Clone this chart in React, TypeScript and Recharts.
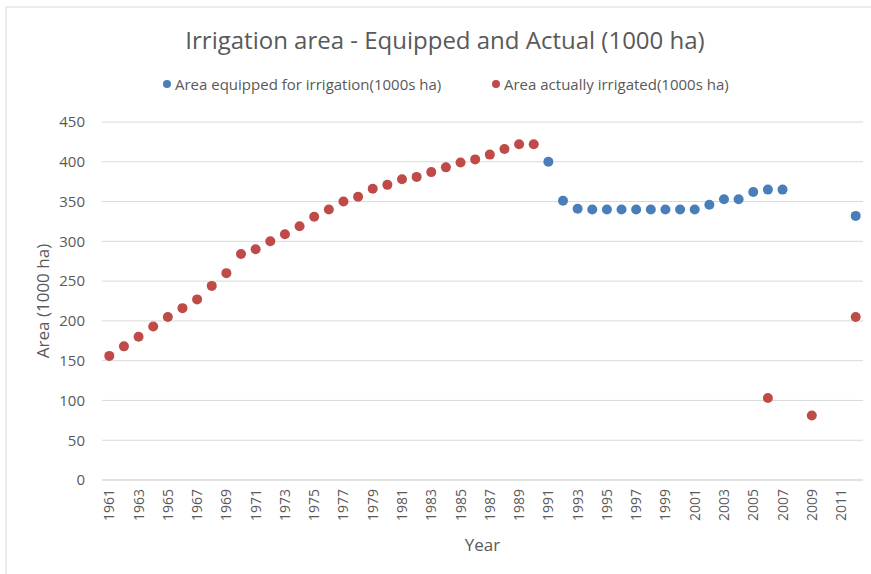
import { ComposedChart, Line, XAxis, YAxis, CartesianGrid } from 'recharts';

const years = [
  1961, 1962, 1963, 1964, 1965, 1966, 1967, 1968, 1969, 1970,
  1971, 1972, 1973, 1974, 1975, 1976, 1977, 1978, 1979, 1980,
  1981, 1982, 1983, 1984, 1985, 1986, 1987, 1988, 1989, 1990,
  1991, 1992, 1993, 1994, 1995, 1996, 1997, 1998, 1999, 2000,
  2001, 2002, 2003, 2004, 2005, 2006, 2007, 2008, 2009, 2010,
  2011, 2012,
];

// equipped area (1000 ha); before 1991 it sits under the red dots
const equipped: (number | null)[] = [
  null, null, null, null, null, null, null, null, null, null,
  null, null, null, null, null, null, null, null, null, null,
  null, null, null, null, null, null, null, null, null, null,
  400, 351, 341, 340, 340, 340, 340, 340, 340, 340,
  340, 346, 353, 353, 362, 365, 365, null, null, null,
  null, 332,
];

const actual: (number | null)[] = [
  156, 168, 180, 193, 205, 216, 227, 244, 260, 284,
  290, 300, 309, 319, 331, 340, 350, 356, 366, 371,
  378, 381, 387, 393, 399, 403, 409, 416, 422, 422,
  null, null, null, null, null, null, null, null, null, null,
  null, null, null, null, null, 103, null, null, 81, null,
  null, 205,
];

const yTicks = [0, 50, 100, 150, 200, 250, 300, 350, 400, 450];

const data = years.map((y, i) => ({ year: y, equipped: equipped[i], actual: actual[i] }));

const BLUE = '#4a7ebb';
const RED = '#be4b48';
const TEXT = '#595959';
const FONT = '"Open Sans", sans-serif';

function YearTick({ x, y, payload }: any) {
  return (
    <text x={x} y={y} transform={`rotate(-90 ${x} ${y})`} textAnchor="end" dy="0.36em" fill={TEXT} fontSize={14} fontFamily={FONT}>
      {payload.value}
    </text>
  );
}

function LegendItem({ color, label, left }: { color: string; label: string; left: number }) {
  return (
    <div style={{ position: 'absolute', left, top: 74, display: 'flex', alignItems: 'center', whiteSpace: 'nowrap', fontSize: 15, color: TEXT }}>
      <span style={{ width: 8, height: 8, borderRadius: '50%', background: color, marginRight: 4 }} />
      {label}
    </div>
  );
}

export default function App() {
  return (
    <div style={{ position: 'absolute', left: 0, top: 0, width: 871, height: 574, background: '#fff', fontFamily: FONT }}>
      <div style={{ position: 'absolute', left: 5, top: 6, right: 0, bottom: 0, borderLeft: '2px solid #ececec', borderTop: '2px solid #ececec' }} />
      <div style={{ position: 'absolute', left: 0, top: 23, width: 890, textAlign: 'center', fontSize: 24, color: TEXT, whiteSpace: 'nowrap' }}>
        Irrigation area - Equipped and Actual (1000 ha)
      </div>
      <LegendItem color={BLUE} left={163} label="Area equipped for irrigation(1000s ha)" />
      <LegendItem color={RED} left={492} label="Area actually irrigated(1000s ha)" />
      <ComposedChart width={871} height={574} data={data} margin={{ top: 122, right: 8, bottom: 0, left: 0 }} style={{ position: 'absolute', left: 0, top: 0 }}>
        <CartesianGrid stroke="#d9d9d9" vertical={false} />
        <XAxis
          dataKey="year"
          interval={1}
          height={94}
          padding={{ left: 7.3, right: 7.3 }}
          tickLine={false}
          axisLine={{ stroke: '#d9d9d9' }}
          tick={<YearTick />}
          tickMargin={3}
          label={{
            content: ({ viewBox }: any) => (
              <text x={viewBox.x + viewBox.width / 2} y={551} textAnchor="middle" fill={TEXT} fontSize={17} fontFamily={FONT}>
                Year
              </text>
            ),
          }}
        />
        <YAxis
          width={102}
          domain={[0, 450]}
          ticks={yTicks}
          tickLine={false}
          axisLine={false}
          tickMargin={11}
          tick={{ fill: TEXT, fontSize: 15, fontFamily: FONT }}
          label={{
            content: ({ viewBox }: any) => {
              const cy = viewBox.y + viewBox.height / 2;
              return (
                <text x={43} y={cy} transform={`rotate(-90 43 ${cy})`} textAnchor="middle" dy="0.36em" fill={TEXT} fontSize={17} fontFamily={FONT}>
                  Area (1000 ha)
                </text>
              );
            },
          }}
        />
        <Line dataKey="equipped" stroke="none" isAnimationActive={false} activeDot={false} dot={{ r: 5, fill: BLUE, stroke: 'none' }} />
        <Line dataKey="actual" stroke="none" isAnimationActive={false} activeDot={false} dot={{ r: 5, fill: RED, stroke: 'none' }} />
      </ComposedChart>
    </div>
  );
}
